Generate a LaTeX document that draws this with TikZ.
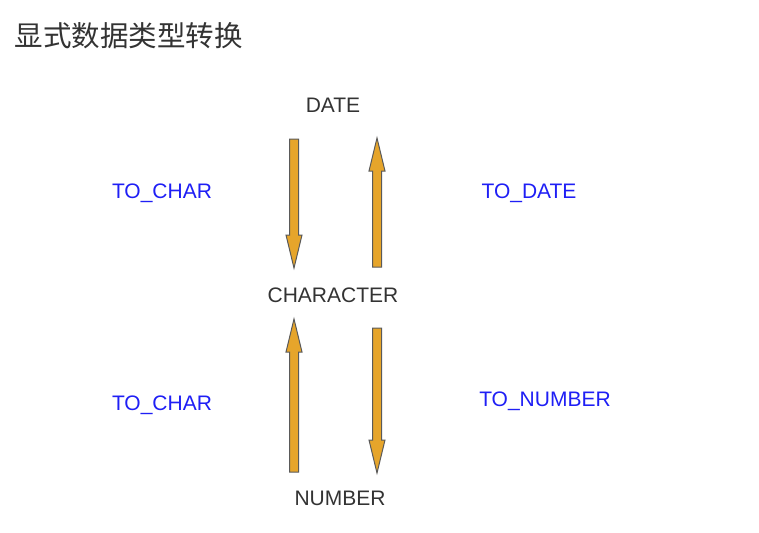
\documentclass[tikz,border=0pt]{standalone}
\usepackage{fontspec}
\setmainfont{Liberation Sans}
\newfontfamily\cjkfont{Noto Sans CJK SC}
\usepackage{tikz}
\usetikzlibrary{calc}
\definecolor{arrowfill}{HTML}{E6A52B}
\definecolor{arrowline}{HTML}{5A5A5A}
\definecolor{labelblue}{HTML}{1F1FF5}
\definecolor{typegray}{HTML}{333333}
\newcommand*{\blockarr}[2]{%
  \draw [blockarrow] let \p1=(#1), \p2=(#2), \n1={sign(\y2-\y1)} in
    ({\x1-4.5pt}, \y1) -- ({\x1-4.5pt}, {\y2-\n1*33pt}) -- ({\x1-8pt}, {\y2-\n1*33pt})
    -- (\x2, \y2) -- ({\x1+8pt}, {\y2-\n1*33pt}) -- ({\x1+4.5pt}, {\y2-\n1*33pt})
    -- ({\x1+4.5pt}, \y1) -- cycle;}

\begin{document}
\begin{tikzpicture}[x=1pt, y=-1pt,
    typename/.style={text=typegray, font=\fontsize{21}{25}\selectfont},
    funcname/.style={text=labelblue, font=\fontsize{21}{25}\selectfont},
    blockarrow/.style={fill=arrowfill, draw=arrowline, line width=1pt, line join=miter}]
\useasboundingbox (0, 0) rectangle (759, 532);

%Title
\node[anchor=west, text=typegray, font=\cjkfont\fontsize{28.5}{32}\selectfont] (title) at (11, 36) {显式数据类型转换};

%Types
\node[typename] (date) at (333, 105) {DATE};
\node[typename] (char) at (333, 295) {CHARACTER};
\node[typename] (number) at (340, 498) {NUMBER};

%Functions
\node[funcname] (tochar1) at (162, 193) {TO\_CHAR};
\node[funcname] (todate) at (529, 193) {TO\_DATE};
\node[funcname] (tochar2) at (162, 405) {TO\_CHAR};
\node[funcname] (tonumber) at (545, 401) {TO\_NUMBER};

%Arrow ends
\coordinate (a1s) at (294, 139);
\coordinate (a1e) at (294, 268);
\coordinate (a2s) at (377, 267);
\coordinate (a2e) at (377, 138);
\coordinate (a3s) at (294, 472);
\coordinate (a3e) at (294, 319);
\coordinate (a4s) at (377, 328);
\coordinate (a4e) at (377, 473);

\blockarr{a1s}{a1e}
\blockarr{a2s}{a2e}
\blockarr{a3s}{a3e}
\blockarr{a4s}{a4e}
\end{tikzpicture}
\end{document}
